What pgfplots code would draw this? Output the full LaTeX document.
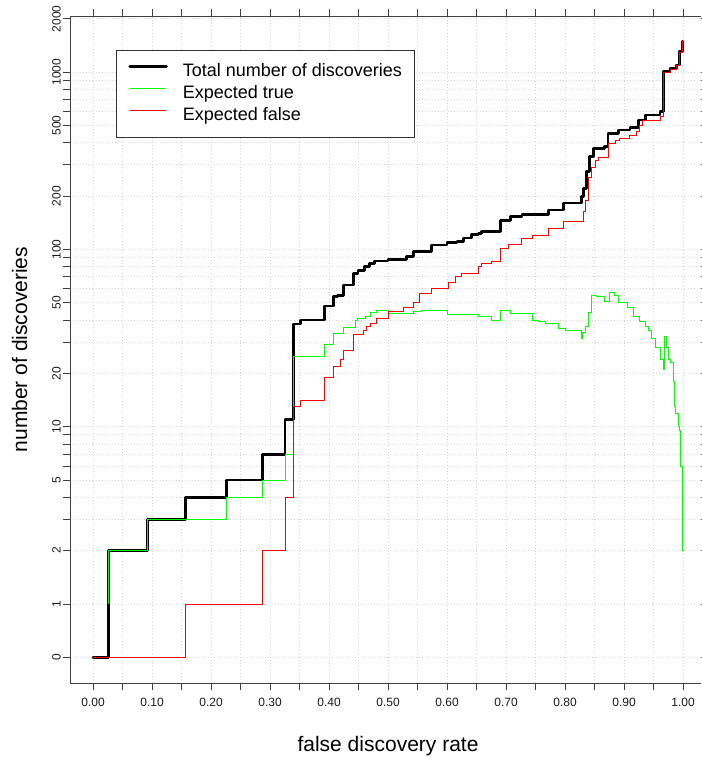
\documentclass[border=0pt]{standalone}
\usepackage{pgfplots}
\pgfplotsset{compat=1.18}
\usepackage{fontspec}
\setmainfont{Liberation Sans}
\definecolor{rgreen}{RGB}{0,255,0}
\definecolor{rred}{RGB}{255,0,0}
\definecolor{gridgray}{RGB}{211,211,211}
\begin{document}
\begin{tikzpicture}
\begin{axis}[
  at={(0,0)}, anchor=south west,
  scale only axis, width=631pt, height=667pt,
  xmin=-0.039, xmax=1.0305,
  ymode=log, ymin=0.3586, ymax=2073,
  clip=false,
  axis line style={draw=none},
  tick align=outside, major tick length=7.5pt, minor tick length=7.5pt,
  tick style={black!75, line width=0.8pt},
  xtick={0,0.1,0.2,0.3,0.4,0.5,0.6,0.7,0.8,0.9,1.0},
  xticklabels={0.00,0.10,0.20,0.30,0.40,0.50,0.60,0.70,0.80,0.90,1.00},
  minor xtick={0.05,0.15,0.25,0.35,0.45,0.55,0.65,0.75,0.85,0.95},
  ytick={0.5,1,2,5,10,20,50,100,200,500,1000,2000},
  yticklabels={0,1,2,5,10,20,50,100,200,500,1000,2000},
  minor ytick={3,4,6,7,8,9,30,40,60,70,80,90,300,400,600,700,800,900},
  grid=both,
  major grid style={gridgray, line width=0.8pt, dash pattern=on 0.8pt off 2.4pt},
  minor grid style={gridgray, line width=0.8pt, dash pattern=on 0.8pt off 2.4pt},
  /pgf/number format/assume math mode=true,
  ticklabel style={font=\fontsize{12}{14}\selectfont, text=black!90},
  yticklabel style={rotate=90, anchor=base},
  xticklabel shift=4pt,
  yticklabel shift=2pt,
  xlabel={false discovery rate},
  ylabel={number of discoveries},
  label style={font=\fontsize{21}{25}\selectfont},
  xlabel style={at={(axis description cs:0.504,-0.1034)}, anchor=base},
  ylabel style={at={(axis description cs:-0.0681,0.5)}, anchor=base, rotate=0},
  legend cell align=left,
  legend image code/.code={\draw[#1] (0pt,5.6pt) -- (36.6pt,5.6pt);},
  legend style={at={(axis description cs:0.0729,0.949)}, anchor=north west,
    draw=black!80, line width=0.9pt, fill=white,
    font=\fontsize{18}{21}\selectfont,
    inner xsep=12pt, inner ysep=13.5pt, row sep=4.7pt,
    nodes={inner sep=0pt, text height=13pt, text depth=4pt},
    /tikz/every odd column/.append style={column sep=15pt}},
]
\addplot[black, line width=2.8pt, const plot, line join=round, line cap=round] coordinates {
(0,0.5) (0.026,2) (0.0926,3) (0.1565,4) (0.2266,5) (0.287,7) (0.3254,11) (0.3395,38) (0.352,40)
(0.393,48) (0.407,54) (0.415,55) (0.424,63) (0.441,73) (0.449,76) (0.460,80) (0.468,83) (0.477,86)
(0.500,88) (0.531,91) (0.543,97) (0.574,106) (0.600,109) (0.617,111) (0.628,116) (0.642,121)
(0.653,123) (0.659,126) (0.690,146) (0.707,154) (0.727,157) (0.772,167) (0.797,183) (0.828,198)
(0.831,221) (0.836,274) (0.842,333) (0.848,372) (0.867,380) (0.873,452) (0.890,472) (0.910,489)
(0.924,537) (0.936,573) (0.961,598) (0.967,1006) (0.978,1052) (0.989,1097) (0.994,1304)
(0.9995,1486) (1.0,1486)};
\addlegendentry{Total number of discoveries}
\addplot[rgreen, line width=0.9pt, const plot] coordinates {
(0.026,1) (0.026,2) (0.0926,3) (0.2266,4) (0.287,5) (0.3254,7) (0.3395,25) (0.393,29) (0.407,33.5)
(0.424,36.5) (0.444,40) (0.449,41) (0.461,42) (0.471,44) (0.481,45.5) (0.500,43.5) (0.543,44.5)
(0.557,45.5) (0.600,43) (0.653,42) (0.676,40) (0.690,45.5) (0.707,43.5) (0.745,40) (0.755,39)
(0.766,38) (0.789,36) (0.800,35) (0.828,31.5) (0.830,34) (0.834,37) (0.839,44) (0.845,55)
(0.854,54) (0.866,51) (0.876,57.5) (0.883,55) (0.890,50) (0.905,47) (0.916,42) (0.927,39)
(0.936,37) (0.941,35) (0.947,31.5) (0.953,28) (0.961,24) (0.966,21) (0.9685,32.3) (0.972,28)
(0.976,24) (0.978,23) (0.984,18) (0.986,13) (0.988,11.9) (0.992,10) (0.994,9.5) (0.996,6)
(0.999,3) (0.9995,2) (1.0,2)};
\addlegendentry{Expected true}
\addplot[rred, line width=0.9pt, const plot] coordinates {
(0,0.5) (0.157,1) (0.287,2) (0.326,4) (0.3395,13) (0.352,14) (0.393,19) (0.407,22) (0.419,24)
(0.425,27) (0.442,33) (0.459,35) (0.464,37) (0.470,38) (0.480,41) (0.500,44.5) (0.526,47)
(0.543,50.5) (0.554,56.5) (0.574,60) (0.602,65) (0.614,70) (0.625,73.5) (0.653,80) (0.659,83)
(0.676,86) (0.690,101) (0.704,106) (0.727,115) (0.744,120) (0.772,131) (0.797,144) (0.831,164)
(0.834,189) (0.839,256) (0.845,290) (0.851,319) (0.856,331) (0.873,397) (0.885,410) (0.893,424)
(0.910,437) (0.921,462) (0.927,501) (0.932,531) (0.961,565) (0.967,990) (0.978,1030)
(0.989,1085) (0.994,1295) (0.9995,1480) (1.0,1480)};
\addlegendentry{Expected false}
\draw[black!75, line width=0.9pt] (rel axis cs:1,1) -- (rel axis cs:0,1) -- (rel axis cs:0,0) -- (rel axis cs:1,0);
\end{axis}
\pgfresetboundingbox
\path[use as bounding box] (-70pt,-74pt) rectangle (631pt,683pt);
\end{tikzpicture}
\end{document}
